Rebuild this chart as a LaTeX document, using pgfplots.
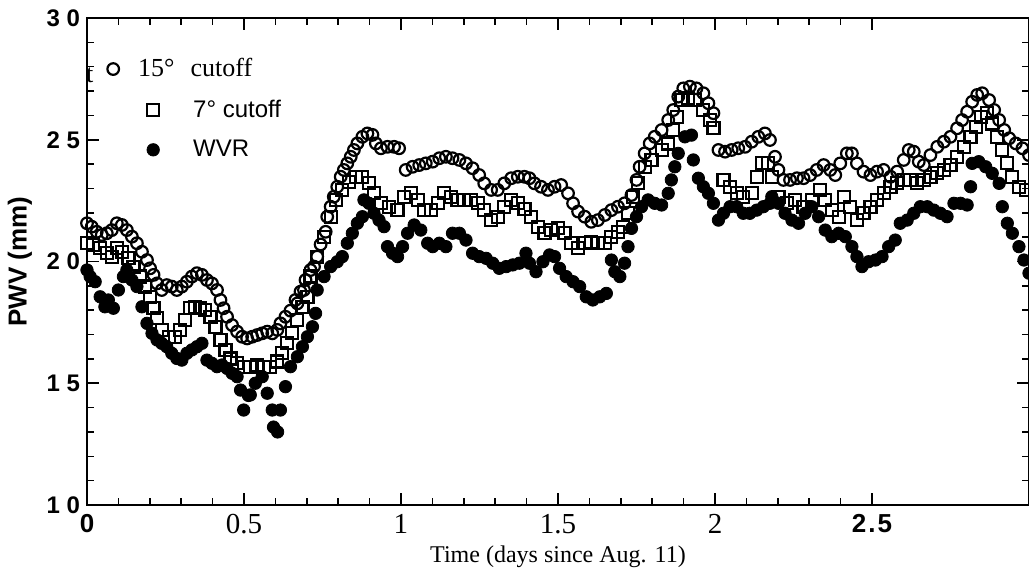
\documentclass[border=0pt]{standalone}
\usepackage{fontspec}
\setmainfont{Liberation Serif}
\setsansfont{Liberation Sans}
\usepackage{pgfplots}
\pgfplotsset{compat=1.18}
\pgfplotsset{
  legimgA/.style={legend image code/.code={\path[draw=none,fill=none] (-30pt,0) -- (10pt,0); \draw[##1] plot coordinates {(-28pt,0pt)};}},
  legimgB/.style={legend image code/.code={\path[draw=none,fill=none] (-30pt,0) -- (10pt,0); \draw[##1] plot coordinates {(-8pt,0pt)};}},
}

\begin{document}
\begin{tikzpicture}
\begin{axis}[
  scale only axis,
  width=471pt, height=243.5pt,
  xmin=0, xmax=3, ymin=1, ymax=3,
  xtick={0,0.5,1,1.5,2,2.5},
  xticklabels={{\sffamily\bfseries\fontsize{13}{13}\selectfont 0}, 0.5, 1, 1.5, 2, {\sffamily\bfseries\fontsize{13}{13}\selectfont 2\kern1pt.\kern1pt5}},
  ytick={1,1.5,2,2.5,3},
  yticklabels={1 0, 1 5, 2 0, 2 5, 3 0},
  yticklabel style={font=\sffamily\bfseries\fontsize{12}{12}\selectfont},
  xticklabel style={font=\fontsize{14.5}{14.5}\selectfont, yshift=-1pt},
  minor tick num=4,
  tick align=inside,
  major tick length=6pt, minor tick length=3.5pt,
  axis line style={line width=1pt},
  every tick/.style={black, line width=0.8pt},
  xlabel={Time (days since Aug. 11)},
  xlabel style={font=\fontsize{12}{12}\selectfont, at={(axis description cs:0.5,-0.1068)}, anchor=center},
  ylabel={PWV (mm)},
  ylabel style={font=\sffamily\bfseries\fontsize{13}{13}\selectfont, at={(axis description cs:-0.0711,0.5)}, anchor=center},
  legend style={draw=none, fill=none, at={(axis description cs:0,1)}, anchor=north west,
    xshift=10pt, yshift=-18pt, row sep=6pt, font=\fontsize{12}{12}\selectfont, inner sep=0pt},
  legend cell align=left,
]
\addplot[only marks, mark=o, mark size=2.9pt, mark options={line width=1.1pt, black}, legimgA]
table {
x y
0.000 2.157
0.015 2.143
0.031 2.122
0.047 2.109
0.063 2.116
0.079 2.129
0.095 2.157
0.111 2.150
0.127 2.129
0.143 2.102
0.159 2.075
0.175 2.040
0.191 2.006
0.201 1.972
0.212 1.945
0.223 1.910
0.238 1.883
0.254 1.903
0.270 1.897
0.286 1.883
0.302 1.897
0.318 1.917
0.334 1.938
0.350 1.952
0.366 1.945
0.382 1.924
0.398 1.910
0.414 1.883
0.425 1.842
0.435 1.808
0.446 1.773
0.462 1.739
0.478 1.712
0.494 1.691
0.510 1.684
0.526 1.691
0.542 1.698
0.558 1.705
0.574 1.712
0.590 1.705
0.606 1.719
0.616 1.746
0.632 1.773
0.648 1.798
0.664 1.842
0.670 1.828
0.680 1.876
0.691 1.883
0.696 1.924
0.712 1.965
0.723 1.979
0.733 2.020
0.744 2.070
0.760 2.122
0.765 2.184
0.776 2.225
0.786 2.266
0.797 2.307
0.808 2.348
0.818 2.376
0.829 2.403
0.840 2.430
0.850 2.458
0.861 2.485
0.877 2.512
0.893 2.526
0.909 2.520
0.920 2.485
0.936 2.465
0.957 2.471
0.978 2.471
0.994 2.465
1.015 2.376
1.037 2.389
1.058 2.396
1.079 2.403
1.101 2.410
1.122 2.424
1.143 2.430
1.164 2.424
1.186 2.417
1.207 2.403
1.228 2.383
1.249 2.355
1.265 2.321
1.287 2.294
1.308 2.294
1.329 2.321
1.351 2.342
1.372 2.348
1.393 2.348
1.409 2.342
1.425 2.321
1.446 2.307
1.468 2.294
1.489 2.307
1.510 2.314
1.532 2.280
1.548 2.239
1.564 2.205
1.585 2.184
1.606 2.163
1.627 2.170
1.649 2.191
1.670 2.211
1.691 2.225
1.712 2.239
1.734 2.273
1.750 2.335
1.760 2.389
1.776 2.444
1.792 2.485
1.808 2.512
1.830 2.540
1.851 2.581
1.867 2.622
1.883 2.677
1.899 2.711
1.920 2.718
1.941 2.711
1.963 2.691
1.979 2.650
1.995 2.609
2.011 2.458
2.032 2.451
2.053 2.458
2.074 2.465
2.096 2.471
2.117 2.492
2.138 2.512
2.159 2.526
2.175 2.499
2.191 2.430
2.202 2.376
2.218 2.335
2.239 2.335
2.261 2.342
2.282 2.342
2.303 2.355
2.324 2.376
2.346 2.396
2.367 2.376
2.383 2.355
2.399 2.403
2.420 2.444
2.436 2.444
2.452 2.403
2.473 2.369
2.495 2.355
2.516 2.369
2.537 2.376
2.559 2.348
2.580 2.369
2.601 2.417
2.617 2.458
2.633 2.451
2.649 2.410
2.665 2.396
2.686 2.437
2.708 2.471
2.729 2.492
2.750 2.512
2.771 2.547
2.787 2.581
2.803 2.615
2.819 2.656
2.835 2.684
2.851 2.691
2.873 2.663
2.889 2.622
2.905 2.581
2.921 2.540
2.937 2.506
2.958 2.485
2.979 2.465
3.000 2.437
};
\addlegendentry{\hspace*{-27.5pt}\fontsize{13}{13}\selectfont 15\textdegree\hspace{8pt}cutoff}
\addplot[only marks, mark=square, mark size=3pt, mark options={line width=1.1pt, black}, legimgB]
table {
x y
0.000 2.075
0.020 2.068
0.042 2.054
0.063 2.034
0.079 2.020
0.095 2.054
0.111 2.040
0.132 2.013
0.148 1.979
0.169 1.938
0.185 1.897
0.201 1.855
0.212 1.808
0.223 1.767
0.238 1.719
0.260 1.691
0.281 1.691
0.297 1.719
0.313 1.760
0.329 1.808
0.345 1.814
0.361 1.808
0.377 1.801
0.393 1.773
0.409 1.732
0.425 1.678
0.441 1.637
0.457 1.602
0.478 1.582
0.499 1.568
0.520 1.568
0.542 1.575
0.563 1.568
0.584 1.568
0.606 1.589
0.622 1.623
0.638 1.664
0.654 1.705
0.670 1.760
0.686 1.814
0.702 1.855
0.712 1.938
0.733 2.020
0.755 2.102
0.776 2.184
0.792 2.253
0.813 2.294
0.834 2.328
0.856 2.348
0.877 2.348
0.898 2.321
0.914 2.280
0.936 2.239
0.962 2.225
0.989 2.211
1.010 2.266
1.031 2.280
1.053 2.253
1.074 2.211
1.095 2.211
1.117 2.239
1.138 2.280
1.159 2.266
1.180 2.253
1.201 2.253
1.223 2.253
1.244 2.239
1.265 2.211
1.287 2.170
1.308 2.184
1.329 2.225
1.351 2.253
1.372 2.239
1.393 2.215
1.414 2.184
1.436 2.143
1.457 2.116
1.478 2.129
1.500 2.136
1.521 2.116
1.542 2.075
1.564 2.054
1.585 2.075
1.606 2.081
1.627 2.075
1.649 2.075
1.670 2.102
1.691 2.122
1.707 2.143
1.723 2.198
1.739 2.266
1.755 2.321
1.776 2.389
1.798 2.417
1.830 2.458
1.851 2.485
1.867 2.540
1.878 2.595
1.893 2.663
1.915 2.670
1.936 2.663
1.963 2.622
1.984 2.581
1.995 2.547
2.027 2.335
2.048 2.307
2.069 2.280
2.090 2.266
2.117 2.280
2.133 2.348
2.149 2.403
2.170 2.403
2.181 2.348
2.202 2.266
2.229 2.239
2.255 2.253
2.282 2.225
2.308 2.253
2.335 2.294
2.351 2.253
2.372 2.211
2.394 2.184
2.410 2.266
2.431 2.225
2.452 2.170
2.473 2.198
2.495 2.225
2.516 2.253
2.537 2.280
2.559 2.307
2.580 2.321
2.601 2.335
2.622 2.335
2.644 2.321
2.665 2.335
2.686 2.348
2.708 2.362
2.729 2.376
2.750 2.396
2.771 2.430
2.793 2.471
2.814 2.512
2.830 2.553
2.846 2.595
2.867 2.609
2.883 2.567
2.899 2.512
2.915 2.458
2.931 2.403
2.947 2.348
2.968 2.307
2.990 2.294
};
\addlegendentry{\sffamily 7\textdegree\ cutoff}
\addplot[only marks, mark=*, mark size=3.1pt, mark options={black, fill=black}, legimgB]
table {
x y
0.000 1.965
0.010 1.938
0.026 1.917
0.042 1.855
0.057 1.814
0.068 1.842
0.084 1.808
0.100 1.883
0.116 1.938
0.127 1.965
0.143 1.924
0.159 1.897
0.175 1.814
0.191 1.746
0.207 1.705
0.223 1.678
0.238 1.664
0.254 1.650
0.270 1.623
0.286 1.602
0.302 1.595
0.318 1.623
0.334 1.637
0.350 1.650
0.366 1.664
0.382 1.595
0.398 1.582
0.414 1.568
0.430 1.575
0.446 1.561
0.462 1.541
0.478 1.527
0.489 1.472
0.499 1.390
0.514 1.450
0.520 1.452
0.536 1.500
0.558 1.527
0.574 1.459
0.590 1.390
0.594 1.320
0.607 1.300
0.616 1.390
0.632 1.486
0.648 1.568
0.670 1.609
0.686 1.650
0.702 1.691
0.718 1.732
0.728 1.787
0.733 1.883
0.755 1.938
0.776 1.979
0.797 1.999
0.813 2.020
0.829 2.075
0.845 2.116
0.861 2.157
0.877 2.184
0.882 2.253
0.898 2.239
0.914 2.198
0.930 2.170
0.946 2.143
0.957 2.061
0.973 2.034
0.989 2.020
1.005 2.061
1.021 2.116
1.042 2.150
1.063 2.129
1.085 2.075
1.101 2.061
1.122 2.075
1.143 2.061
1.164 2.116
1.186 2.116
1.207 2.088
1.228 2.034
1.249 2.020
1.271 2.013
1.292 1.993
1.313 1.972
1.335 1.979
1.356 1.986
1.377 1.993
1.398 2.034
1.409 1.993
1.430 1.958
1.452 1.999
1.473 2.027
1.489 2.020
1.505 1.972
1.526 1.938
1.548 1.917
1.569 1.897
1.590 1.855
1.611 1.842
1.633 1.855
1.654 1.869
1.670 2.006
1.681 1.958
1.697 1.938
1.712 1.993
1.723 2.061
1.734 2.136
1.750 2.184
1.766 2.225
1.787 2.253
1.808 2.239
1.830 2.232
1.851 2.280
1.861 2.335
1.872 2.389
1.883 2.444
1.904 2.512
1.925 2.519
1.931 2.417
1.947 2.342
1.963 2.307
1.979 2.280
1.995 2.239
2.011 2.170
2.027 2.198
2.048 2.225
2.069 2.225
2.090 2.198
2.111 2.198
2.133 2.211
2.154 2.225
2.175 2.239
2.181 2.266
2.202 2.239
2.223 2.198
2.245 2.170
2.266 2.157
2.287 2.198
2.308 2.225
2.330 2.184
2.351 2.129
2.372 2.102
2.394 2.116
2.415 2.102
2.436 2.061
2.452 2.020
2.468 1.979
2.489 1.999
2.511 2.006
2.532 2.020
2.553 2.061
2.574 2.088
2.590 2.157
2.612 2.170
2.633 2.198
2.654 2.225
2.676 2.225
2.697 2.211
2.718 2.198
2.739 2.184
2.761 2.239
2.782 2.239
2.803 2.232
2.814 2.307
2.819 2.403
2.840 2.410
2.862 2.389
2.883 2.362
2.905 2.321
2.915 2.225
2.931 2.157
2.947 2.116
2.968 2.061
2.984 2.006
3.000 1.952
};
\addlegendentry{\sffamily WVR}
\node[font=\fontsize{13}{13}\selectfont, anchor=center] at (axis description cs:0.003,0.883) {t};
\end{axis}
\pgfresetboundingbox
\path[use as bounding box] ([xshift=-43.5pt,yshift=-34pt]current axis.south west) rectangle ([yshift=9pt]current axis.north east);
\end{tikzpicture}
\end{document}
